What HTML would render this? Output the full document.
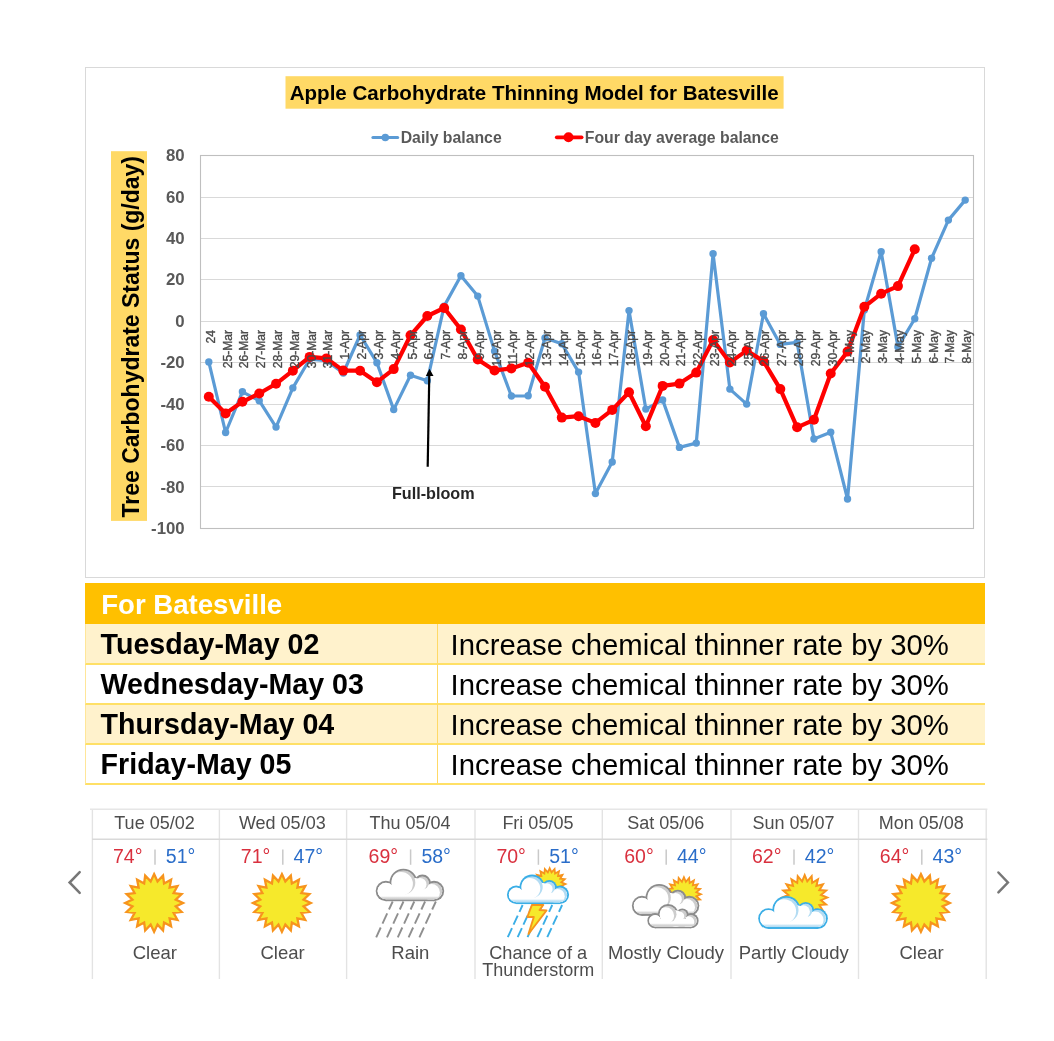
<!DOCTYPE html>
<html><head><meta charset="utf-8"><style>
html,body{margin:0;padding:0;background:#fff;}
body{width:1054px;height:1041px;position:relative;overflow:hidden;font-family:"Liberation Sans", sans-serif;}
#wrap{position:absolute;left:0;top:0;width:1054px;height:1041px;background:#fff;will-change:transform;}
#chart{position:absolute;left:0;top:0;}
#tbl{position:absolute;left:85px;top:583px;width:900px;}
.hdr{position:absolute;left:0;top:0;width:900px;height:40.7px;background:#ffc000;color:#fff;font-weight:bold;font-size:27.6px;line-height:44.5px;padding-left:16.2px;box-sizing:border-box;}
.row{position:absolute;left:0;width:900px;box-sizing:border-box;border-left:1px solid #ffe699;border-bottom:2px solid #ffe066;}
.r1{background:#fff2cc;}
.r2{background:#fff;}
.c1{position:absolute;left:14.6px;top:0.5px;line-height:40px;font-size:28.6px;font-weight:bold;color:#000;white-space:nowrap;}
.c2{position:absolute;left:351px;top:0;bottom:0;padding-left:12.6px;border-left:1.3px solid #ffd966;line-height:41px;font-size:29.3px;color:#000;white-space:nowrap;}
.wc{position:absolute;top:809px;width:127.8px;height:170px;box-sizing:border-box;border-left:1px solid #e0e0e0;}
#wtop{position:absolute;left:92px;top:808.5px;width:895px;height:0;border-top:1px solid #e0e0e0;}
#wmid{position:absolute;left:92px;top:838.5px;width:895px;height:0;border-top:1px solid #e0e0e0;}
#wright{position:absolute;left:986.5px;top:809px;width:0;height:170px;border-left:1px solid #e0e0e0;}
.wh{position:absolute;left:0;right:0;top:0;height:30px;line-height:38px;text-align:center;font-size:18px;color:#444;}
.wt{position:absolute;left:0;right:0;top:33px;text-align:center;font-size:18px;line-height:22px;}
.hi{color:#d9303e;} .lo{color:#2a6dc9;} .sep{color:#ccc;margin:0 9px;}
.wi{position:absolute;left:0;top:60px;}
.wd{position:absolute;left:0;right:0;top:129px;text-align:center;font-size:17.5px;line-height:18px;color:#444;}
.arr{position:absolute;}
</style></head><body><div id="wrap">
<svg id="chart" width="1054" height="600" viewBox="0 0 1054 600" font-family='"Liberation Sans", sans-serif'>
<rect x="85.5" y="67.5" width="899" height="510" fill="#fff" stroke="#d9d9d9" stroke-width="1"/>
<rect x="285.5" y="76.2" width="498.1" height="32.5" fill="#ffd966"/>
<text x="289.7" y="100.2" font-size="20.6" font-weight="bold" fill="#000" textLength="489" lengthAdjust="spacingAndGlyphs">Apple Carbohydrate Thinning Model for Batesville</text>
<line x1="372.9" y1="137.5" x2="397.7" y2="137.5" stroke="#5b9bd5" stroke-width="3" stroke-linecap="round"/>
<circle cx="385.3" cy="137.5" r="3.8" fill="#5b9bd5"/>
<text x="400.7" y="142.8" font-size="15.8" font-weight="bold" fill="#595959">Daily balance</text>
<line x1="556.8" y1="137.3" x2="581.6" y2="137.3" stroke="#ff0000" stroke-width="3.8" stroke-linecap="round"/>
<circle cx="568.5" cy="137.3" r="5" fill="#ff0000"/>
<text x="584.8" y="142.8" font-size="15.8" font-weight="bold" fill="#595959">Four day average balance</text>
<rect x="111" y="151.2" width="36" height="369.7" fill="#ffd966"/>
<text transform="translate(139.2,517.5) rotate(-90)" font-size="23" font-weight="bold" fill="#000" textLength="361.5" lengthAdjust="spacingAndGlyphs">Tree Carbohydrate Status (g/day)</text>
<text x="184.7" y="161.20" font-size="16.8" font-weight="bold" fill="#595959" text-anchor="end">80</text>
<line x1="200.4" y1="197.5" x2="973.6" y2="197.5" stroke="#d9d9d9" stroke-width="1.1"/>
<text x="184.7" y="202.62" font-size="16.8" font-weight="bold" fill="#595959" text-anchor="end">60</text>
<line x1="200.4" y1="238.5" x2="973.6" y2="238.5" stroke="#d9d9d9" stroke-width="1.1"/>
<text x="184.7" y="244.04" font-size="16.8" font-weight="bold" fill="#595959" text-anchor="end">40</text>
<line x1="200.4" y1="279.5" x2="973.6" y2="279.5" stroke="#d9d9d9" stroke-width="1.1"/>
<text x="184.7" y="285.47" font-size="16.8" font-weight="bold" fill="#595959" text-anchor="end">20</text>
<line x1="200.4" y1="321.5" x2="973.6" y2="321.5" stroke="#d9d9d9" stroke-width="1.1"/>
<text x="184.7" y="326.89" font-size="16.8" font-weight="bold" fill="#595959" text-anchor="end">0</text>
<line x1="200.4" y1="362.5" x2="973.6" y2="362.5" stroke="#d9d9d9" stroke-width="1.1"/>
<text x="184.7" y="368.31" font-size="16.8" font-weight="bold" fill="#595959" text-anchor="end">-20</text>
<line x1="200.4" y1="404.5" x2="973.6" y2="404.5" stroke="#d9d9d9" stroke-width="1.1"/>
<text x="184.7" y="409.73" font-size="16.8" font-weight="bold" fill="#595959" text-anchor="end">-40</text>
<line x1="200.4" y1="445.5" x2="973.6" y2="445.5" stroke="#d9d9d9" stroke-width="1.1"/>
<text x="184.7" y="451.16" font-size="16.8" font-weight="bold" fill="#595959" text-anchor="end">-60</text>
<line x1="200.4" y1="486.5" x2="973.6" y2="486.5" stroke="#d9d9d9" stroke-width="1.1"/>
<text x="184.7" y="492.58" font-size="16.8" font-weight="bold" fill="#595959" text-anchor="end">-80</text>
<text x="184.7" y="534.00" font-size="16.8" font-weight="bold" fill="#595959" text-anchor="end">-100</text>
<rect x="200.5" y="155.5" width="773" height="373" fill="none" stroke="#bfbfbf" stroke-width="1.1"/>
<polyline points="208.80,361.9 225.61,432.5 242.42,391.8 259.23,400.7 276.04,427.1 292.85,387.9 309.66,359.2 326.47,360.7 343.27,373.0 360.08,335.0 376.89,362.7 393.70,409.6 410.51,375.3 427.32,380.7 444.13,306.1 460.93,275.8 477.74,296.1 494.55,351.1 511.36,396.0 528.17,395.8 544.98,337.9 561.79,343.8 578.60,372.1 595.40,493.6 612.21,462.0 629.02,310.6 645.83,409.1 662.64,399.9 679.45,447.4 696.26,443.1 713.07,253.7 729.87,389.1 746.68,404.1 763.49,313.7 780.30,344.4 797.11,342.4 813.92,439.0 830.73,432.3 847.53,499.0 864.34,310.0 881.15,251.8 897.96,346.9 914.77,318.8 931.58,258.2 948.39,220.1 965.20,200.1" fill="none" stroke="#5b9bd5" stroke-width="3.2" stroke-linejoin="round"/>
<circle cx="208.80" cy="361.9" r="3.7" fill="#5b9bd5"/>
<circle cx="225.61" cy="432.5" r="3.7" fill="#5b9bd5"/>
<circle cx="242.42" cy="391.8" r="3.7" fill="#5b9bd5"/>
<circle cx="259.23" cy="400.7" r="3.7" fill="#5b9bd5"/>
<circle cx="276.04" cy="427.1" r="3.7" fill="#5b9bd5"/>
<circle cx="292.85" cy="387.9" r="3.7" fill="#5b9bd5"/>
<circle cx="309.66" cy="359.2" r="3.7" fill="#5b9bd5"/>
<circle cx="326.47" cy="360.7" r="3.7" fill="#5b9bd5"/>
<circle cx="343.27" cy="373.0" r="3.7" fill="#5b9bd5"/>
<circle cx="360.08" cy="335.0" r="3.7" fill="#5b9bd5"/>
<circle cx="376.89" cy="362.7" r="3.7" fill="#5b9bd5"/>
<circle cx="393.70" cy="409.6" r="3.7" fill="#5b9bd5"/>
<circle cx="410.51" cy="375.3" r="3.7" fill="#5b9bd5"/>
<circle cx="427.32" cy="380.7" r="3.7" fill="#5b9bd5"/>
<circle cx="444.13" cy="306.1" r="3.7" fill="#5b9bd5"/>
<circle cx="460.93" cy="275.8" r="3.7" fill="#5b9bd5"/>
<circle cx="477.74" cy="296.1" r="3.7" fill="#5b9bd5"/>
<circle cx="494.55" cy="351.1" r="3.7" fill="#5b9bd5"/>
<circle cx="511.36" cy="396.0" r="3.7" fill="#5b9bd5"/>
<circle cx="528.17" cy="395.8" r="3.7" fill="#5b9bd5"/>
<circle cx="544.98" cy="337.9" r="3.7" fill="#5b9bd5"/>
<circle cx="561.79" cy="343.8" r="3.7" fill="#5b9bd5"/>
<circle cx="578.60" cy="372.1" r="3.7" fill="#5b9bd5"/>
<circle cx="595.40" cy="493.6" r="3.7" fill="#5b9bd5"/>
<circle cx="612.21" cy="462.0" r="3.7" fill="#5b9bd5"/>
<circle cx="629.02" cy="310.6" r="3.7" fill="#5b9bd5"/>
<circle cx="645.83" cy="409.1" r="3.7" fill="#5b9bd5"/>
<circle cx="662.64" cy="399.9" r="3.7" fill="#5b9bd5"/>
<circle cx="679.45" cy="447.4" r="3.7" fill="#5b9bd5"/>
<circle cx="696.26" cy="443.1" r="3.7" fill="#5b9bd5"/>
<circle cx="713.07" cy="253.7" r="3.7" fill="#5b9bd5"/>
<circle cx="729.87" cy="389.1" r="3.7" fill="#5b9bd5"/>
<circle cx="746.68" cy="404.1" r="3.7" fill="#5b9bd5"/>
<circle cx="763.49" cy="313.7" r="3.7" fill="#5b9bd5"/>
<circle cx="780.30" cy="344.4" r="3.7" fill="#5b9bd5"/>
<circle cx="797.11" cy="342.4" r="3.7" fill="#5b9bd5"/>
<circle cx="813.92" cy="439.0" r="3.7" fill="#5b9bd5"/>
<circle cx="830.73" cy="432.3" r="3.7" fill="#5b9bd5"/>
<circle cx="847.53" cy="499.0" r="3.7" fill="#5b9bd5"/>
<circle cx="864.34" cy="310.0" r="3.7" fill="#5b9bd5"/>
<circle cx="881.15" cy="251.8" r="3.7" fill="#5b9bd5"/>
<circle cx="897.96" cy="346.9" r="3.7" fill="#5b9bd5"/>
<circle cx="914.77" cy="318.8" r="3.7" fill="#5b9bd5"/>
<circle cx="931.58" cy="258.2" r="3.7" fill="#5b9bd5"/>
<circle cx="948.39" cy="220.1" r="3.7" fill="#5b9bd5"/>
<circle cx="965.20" cy="200.1" r="3.7" fill="#5b9bd5"/>
<polyline points="208.80,396.8 225.61,413.4 242.42,401.8 259.23,393.5 276.04,383.8 292.85,370.7 309.66,356.9 326.47,358.4 343.27,370.6 360.08,370.7 376.89,382.2 393.70,369.1 410.51,335.3 427.32,316.0 444.13,308.0 460.93,329.5 477.74,359.5 494.55,370.4 511.36,368.4 528.17,362.8 544.98,386.8 561.79,417.6 578.60,416.2 595.40,422.9 612.21,409.9 629.02,392.2 645.83,426.2 662.64,385.9 679.45,383.6 696.26,372.6 713.07,340.0 729.87,362.4 746.68,350.6 763.49,361.1 780.30,389.1 797.11,427.3 813.92,419.8 830.73,373.5 847.53,351.6 864.34,306.8 881.15,293.7 897.96,286.1 914.77,249.3" fill="none" stroke="#ff0000" stroke-width="4.2" stroke-linejoin="round"/>
<circle cx="208.80" cy="396.8" r="5" fill="#ff0000"/>
<circle cx="225.61" cy="413.4" r="5" fill="#ff0000"/>
<circle cx="242.42" cy="401.8" r="5" fill="#ff0000"/>
<circle cx="259.23" cy="393.5" r="5" fill="#ff0000"/>
<circle cx="276.04" cy="383.8" r="5" fill="#ff0000"/>
<circle cx="292.85" cy="370.7" r="5" fill="#ff0000"/>
<circle cx="309.66" cy="356.9" r="5" fill="#ff0000"/>
<circle cx="326.47" cy="358.4" r="5" fill="#ff0000"/>
<circle cx="343.27" cy="370.6" r="5" fill="#ff0000"/>
<circle cx="360.08" cy="370.7" r="5" fill="#ff0000"/>
<circle cx="376.89" cy="382.2" r="5" fill="#ff0000"/>
<circle cx="393.70" cy="369.1" r="5" fill="#ff0000"/>
<circle cx="410.51" cy="335.3" r="5" fill="#ff0000"/>
<circle cx="427.32" cy="316.0" r="5" fill="#ff0000"/>
<circle cx="444.13" cy="308.0" r="5" fill="#ff0000"/>
<circle cx="460.93" cy="329.5" r="5" fill="#ff0000"/>
<circle cx="477.74" cy="359.5" r="5" fill="#ff0000"/>
<circle cx="494.55" cy="370.4" r="5" fill="#ff0000"/>
<circle cx="511.36" cy="368.4" r="5" fill="#ff0000"/>
<circle cx="528.17" cy="362.8" r="5" fill="#ff0000"/>
<circle cx="544.98" cy="386.8" r="5" fill="#ff0000"/>
<circle cx="561.79" cy="417.6" r="5" fill="#ff0000"/>
<circle cx="578.60" cy="416.2" r="5" fill="#ff0000"/>
<circle cx="595.40" cy="422.9" r="5" fill="#ff0000"/>
<circle cx="612.21" cy="409.9" r="5" fill="#ff0000"/>
<circle cx="629.02" cy="392.2" r="5" fill="#ff0000"/>
<circle cx="645.83" cy="426.2" r="5" fill="#ff0000"/>
<circle cx="662.64" cy="385.9" r="5" fill="#ff0000"/>
<circle cx="679.45" cy="383.6" r="5" fill="#ff0000"/>
<circle cx="696.26" cy="372.6" r="5" fill="#ff0000"/>
<circle cx="713.07" cy="340.0" r="5" fill="#ff0000"/>
<circle cx="729.87" cy="362.4" r="5" fill="#ff0000"/>
<circle cx="746.68" cy="350.6" r="5" fill="#ff0000"/>
<circle cx="763.49" cy="361.1" r="5" fill="#ff0000"/>
<circle cx="780.30" cy="389.1" r="5" fill="#ff0000"/>
<circle cx="797.11" cy="427.3" r="5" fill="#ff0000"/>
<circle cx="813.92" cy="419.8" r="5" fill="#ff0000"/>
<circle cx="830.73" cy="373.5" r="5" fill="#ff0000"/>
<circle cx="847.53" cy="351.6" r="5" fill="#ff0000"/>
<circle cx="864.34" cy="306.8" r="5" fill="#ff0000"/>
<circle cx="881.15" cy="293.7" r="5" fill="#ff0000"/>
<circle cx="897.96" cy="286.1" r="5" fill="#ff0000"/>
<circle cx="914.77" cy="249.3" r="5" fill="#ff0000"/>
<text transform="translate(214.80,330) rotate(-90)" font-size="12.1" font-weight="normal" fill="#4a4a4a" stroke="#4a4a4a" stroke-width="0.35" text-anchor="end">24</text>
<text transform="translate(231.61,330) rotate(-90)" font-size="12.1" font-weight="normal" fill="#4a4a4a" stroke="#4a4a4a" stroke-width="0.35" text-anchor="end">25-Mar</text>
<text transform="translate(248.42,330) rotate(-90)" font-size="12.1" font-weight="normal" fill="#4a4a4a" stroke="#4a4a4a" stroke-width="0.35" text-anchor="end">26-Mar</text>
<text transform="translate(265.23,330) rotate(-90)" font-size="12.1" font-weight="normal" fill="#4a4a4a" stroke="#4a4a4a" stroke-width="0.35" text-anchor="end">27-Mar</text>
<text transform="translate(282.04,330) rotate(-90)" font-size="12.1" font-weight="normal" fill="#4a4a4a" stroke="#4a4a4a" stroke-width="0.35" text-anchor="end">28-Mar</text>
<text transform="translate(298.85,330) rotate(-90)" font-size="12.1" font-weight="normal" fill="#4a4a4a" stroke="#4a4a4a" stroke-width="0.35" text-anchor="end">29-Mar</text>
<text transform="translate(315.66,330) rotate(-90)" font-size="12.1" font-weight="normal" fill="#4a4a4a" stroke="#4a4a4a" stroke-width="0.35" text-anchor="end">30-Mar</text>
<text transform="translate(332.47,330) rotate(-90)" font-size="12.1" font-weight="normal" fill="#4a4a4a" stroke="#4a4a4a" stroke-width="0.35" text-anchor="end">31-Mar</text>
<text transform="translate(349.27,330) rotate(-90)" font-size="12.1" font-weight="normal" fill="#4a4a4a" stroke="#4a4a4a" stroke-width="0.35" text-anchor="end">1-Apr</text>
<text transform="translate(366.08,330) rotate(-90)" font-size="12.1" font-weight="normal" fill="#4a4a4a" stroke="#4a4a4a" stroke-width="0.35" text-anchor="end">2-Apr</text>
<text transform="translate(382.89,330) rotate(-90)" font-size="12.1" font-weight="normal" fill="#4a4a4a" stroke="#4a4a4a" stroke-width="0.35" text-anchor="end">3-Apr</text>
<text transform="translate(399.70,330) rotate(-90)" font-size="12.1" font-weight="normal" fill="#4a4a4a" stroke="#4a4a4a" stroke-width="0.35" text-anchor="end">4-Apr</text>
<text transform="translate(416.51,330) rotate(-90)" font-size="12.1" font-weight="normal" fill="#4a4a4a" stroke="#4a4a4a" stroke-width="0.35" text-anchor="end">5-Apr</text>
<text transform="translate(433.32,330) rotate(-90)" font-size="12.1" font-weight="normal" fill="#4a4a4a" stroke="#4a4a4a" stroke-width="0.35" text-anchor="end">6-Apr</text>
<text transform="translate(450.13,330) rotate(-90)" font-size="12.1" font-weight="normal" fill="#4a4a4a" stroke="#4a4a4a" stroke-width="0.35" text-anchor="end">7-Apr</text>
<text transform="translate(466.93,330) rotate(-90)" font-size="12.1" font-weight="normal" fill="#4a4a4a" stroke="#4a4a4a" stroke-width="0.35" text-anchor="end">8-Apr</text>
<text transform="translate(483.74,330) rotate(-90)" font-size="12.1" font-weight="normal" fill="#4a4a4a" stroke="#4a4a4a" stroke-width="0.35" text-anchor="end">9-Apr</text>
<text transform="translate(500.55,330) rotate(-90)" font-size="12.1" font-weight="normal" fill="#4a4a4a" stroke="#4a4a4a" stroke-width="0.35" text-anchor="end">10-Apr</text>
<text transform="translate(517.36,330) rotate(-90)" font-size="12.1" font-weight="normal" fill="#4a4a4a" stroke="#4a4a4a" stroke-width="0.35" text-anchor="end">11-Apr</text>
<text transform="translate(534.17,330) rotate(-90)" font-size="12.1" font-weight="normal" fill="#4a4a4a" stroke="#4a4a4a" stroke-width="0.35" text-anchor="end">12-Apr</text>
<text transform="translate(550.98,330) rotate(-90)" font-size="12.1" font-weight="normal" fill="#4a4a4a" stroke="#4a4a4a" stroke-width="0.35" text-anchor="end">13-Apr</text>
<text transform="translate(567.79,330) rotate(-90)" font-size="12.1" font-weight="normal" fill="#4a4a4a" stroke="#4a4a4a" stroke-width="0.35" text-anchor="end">14-Apr</text>
<text transform="translate(584.60,330) rotate(-90)" font-size="12.1" font-weight="normal" fill="#4a4a4a" stroke="#4a4a4a" stroke-width="0.35" text-anchor="end">15-Apr</text>
<text transform="translate(601.40,330) rotate(-90)" font-size="12.1" font-weight="normal" fill="#4a4a4a" stroke="#4a4a4a" stroke-width="0.35" text-anchor="end">16-Apr</text>
<text transform="translate(618.21,330) rotate(-90)" font-size="12.1" font-weight="normal" fill="#4a4a4a" stroke="#4a4a4a" stroke-width="0.35" text-anchor="end">17-Apr</text>
<text transform="translate(635.02,330) rotate(-90)" font-size="12.1" font-weight="normal" fill="#4a4a4a" stroke="#4a4a4a" stroke-width="0.35" text-anchor="end">18-Apr</text>
<text transform="translate(651.83,330) rotate(-90)" font-size="12.1" font-weight="normal" fill="#4a4a4a" stroke="#4a4a4a" stroke-width="0.35" text-anchor="end">19-Apr</text>
<text transform="translate(668.64,330) rotate(-90)" font-size="12.1" font-weight="normal" fill="#4a4a4a" stroke="#4a4a4a" stroke-width="0.35" text-anchor="end">20-Apr</text>
<text transform="translate(685.45,330) rotate(-90)" font-size="12.1" font-weight="normal" fill="#4a4a4a" stroke="#4a4a4a" stroke-width="0.35" text-anchor="end">21-Apr</text>
<text transform="translate(702.26,330) rotate(-90)" font-size="12.1" font-weight="normal" fill="#4a4a4a" stroke="#4a4a4a" stroke-width="0.35" text-anchor="end">22-Apr</text>
<text transform="translate(719.07,330) rotate(-90)" font-size="12.1" font-weight="normal" fill="#4a4a4a" stroke="#4a4a4a" stroke-width="0.35" text-anchor="end">23-Apr</text>
<text transform="translate(735.87,330) rotate(-90)" font-size="12.1" font-weight="normal" fill="#4a4a4a" stroke="#4a4a4a" stroke-width="0.35" text-anchor="end">24-Apr</text>
<text transform="translate(752.68,330) rotate(-90)" font-size="12.1" font-weight="normal" fill="#4a4a4a" stroke="#4a4a4a" stroke-width="0.35" text-anchor="end">25-Apr</text>
<text transform="translate(769.49,330) rotate(-90)" font-size="12.1" font-weight="normal" fill="#4a4a4a" stroke="#4a4a4a" stroke-width="0.35" text-anchor="end">26-Apr</text>
<text transform="translate(786.30,330) rotate(-90)" font-size="12.1" font-weight="normal" fill="#4a4a4a" stroke="#4a4a4a" stroke-width="0.35" text-anchor="end">27-Apr</text>
<text transform="translate(803.11,330) rotate(-90)" font-size="12.1" font-weight="normal" fill="#4a4a4a" stroke="#4a4a4a" stroke-width="0.35" text-anchor="end">28-Apr</text>
<text transform="translate(819.92,330) rotate(-90)" font-size="12.1" font-weight="normal" fill="#4a4a4a" stroke="#4a4a4a" stroke-width="0.35" text-anchor="end">29-Apr</text>
<text transform="translate(836.73,330) rotate(-90)" font-size="12.1" font-weight="normal" fill="#4a4a4a" stroke="#4a4a4a" stroke-width="0.35" text-anchor="end">30-Apr</text>
<text transform="translate(853.53,330) rotate(-90)" font-size="12.1" font-weight="normal" fill="#4a4a4a" stroke="#4a4a4a" stroke-width="0.35" text-anchor="end">1-May</text>
<text transform="translate(870.34,330) rotate(-90)" font-size="12.1" font-weight="normal" fill="#4a4a4a" stroke="#4a4a4a" stroke-width="0.35" text-anchor="end">2-May</text>
<text transform="translate(887.15,330) rotate(-90)" font-size="12.1" font-weight="normal" fill="#4a4a4a" stroke="#4a4a4a" stroke-width="0.35" text-anchor="end">3-May</text>
<text transform="translate(903.96,330) rotate(-90)" font-size="12.1" font-weight="normal" fill="#4a4a4a" stroke="#4a4a4a" stroke-width="0.35" text-anchor="end">4-May</text>
<text transform="translate(920.77,330) rotate(-90)" font-size="12.1" font-weight="normal" fill="#4a4a4a" stroke="#4a4a4a" stroke-width="0.35" text-anchor="end">5-May</text>
<text transform="translate(937.58,330) rotate(-90)" font-size="12.1" font-weight="normal" fill="#4a4a4a" stroke="#4a4a4a" stroke-width="0.35" text-anchor="end">6-May</text>
<text transform="translate(954.39,330) rotate(-90)" font-size="12.1" font-weight="normal" fill="#4a4a4a" stroke="#4a4a4a" stroke-width="0.35" text-anchor="end">7-May</text>
<text transform="translate(971.20,330) rotate(-90)" font-size="12.1" font-weight="normal" fill="#4a4a4a" stroke="#4a4a4a" stroke-width="0.35" text-anchor="end">8-May</text>
<line x1="427.7" y1="466.7" x2="429.3" y2="374" stroke="#000" stroke-width="2.2"/>
<path d="M429.5,368.7 L433.5,376 L425.8,376 Z" fill="#000"/>
<text x="391.9" y="499" font-size="16.2" font-weight="bold" fill="#262626">Full-bloom</text>
</svg>
<div id="tbl">
<div class="hdr">For Batesville</div>
<div class="row r1" style="top:40.7px;height:41px"><div class="c1" style="margin-top:0px">Tuesday-May 02</div><div class="c2" style="margin-top:0px">Increase chemical thinner rate by 30%</div></div>
<div class="row r2" style="top:81.7px;height:40px"><div class="c1" style="margin-top:-1.0px">Wednesday-May 03</div><div class="c2" style="margin-top:-1.0px">Increase chemical thinner rate by 30%</div></div>
<div class="row r1" style="top:121.7px;height:40px"><div class="c1" style="margin-top:-1.0px">Thursday-May 04</div><div class="c2" style="margin-top:-1.0px">Increase chemical thinner rate by 30%</div></div>
<div class="row r2" style="top:161.7px;height:40px"><div class="c1" style="margin-top:-1.0px">Friday-May 05</div><div class="c2" style="margin-top:-1.0px">Increase chemical thinner rate by 30%</div></div>
</div>

<svg style="position:absolute;left:0;top:0" width="1054" height="1041" viewBox="0 0 1054 1041" font-family='"Liberation Sans", sans-serif'><path d="M154.10,874.10 L157.53,881.37 L163.03,875.51 L164.04,883.49 L171.09,879.62 L169.59,887.51 L177.48,886.01 L173.61,893.06 L181.59,894.07 L175.73,899.57 L183.00,903.00 L175.73,906.43 L181.59,911.93 L173.61,912.94 L177.48,919.99 L169.59,918.49 L171.09,926.38 L164.04,922.51 L163.03,930.49 L157.53,924.63 L154.10,931.90 L150.67,924.63 L145.17,930.49 L144.16,922.51 L137.11,926.38 L138.61,918.49 L130.72,919.99 L134.59,912.94 L126.61,911.93 L132.47,906.43 L125.20,903.00 L132.47,899.57 L126.61,894.07 L134.59,893.06 L130.72,886.01 L138.61,887.51 L137.11,879.62 L144.16,883.49 L145.17,875.51 L150.67,881.37Z" fill="#f6e92b" stroke="#f7941d" stroke-width="2.3" stroke-linejoin="miter" stroke-miterlimit="10"/><path d="M281.90,874.10 L285.33,881.37 L290.83,875.51 L291.84,883.49 L298.89,879.62 L297.39,887.51 L305.28,886.01 L301.41,893.06 L309.39,894.07 L303.53,899.57 L310.80,903.00 L303.53,906.43 L309.39,911.93 L301.41,912.94 L305.28,919.99 L297.39,918.49 L298.89,926.38 L291.84,922.51 L290.83,930.49 L285.33,924.63 L281.90,931.90 L278.47,924.63 L272.97,930.49 L271.96,922.51 L264.91,926.38 L266.41,918.49 L258.52,919.99 L262.39,912.94 L254.41,911.93 L260.27,906.43 L253.00,903.00 L260.27,899.57 L254.41,894.07 L262.39,893.06 L258.52,886.01 L266.41,887.51 L264.91,879.62 L271.96,883.49 L272.97,875.51 L278.47,881.37Z" fill="#f6e92b" stroke="#f7941d" stroke-width="2.3" stroke-linejoin="miter" stroke-miterlimit="10"/><g stroke="#8f8f8f" stroke-width="1.9" stroke-linecap="butt"><line x1="392.67" y1="901.50" x2="388.99" y2="909.50"/><line x1="387.20" y1="913.40" x2="382.50" y2="923.60"/><line x1="380.71" y1="927.50" x2="376.20" y2="937.30"/><line x1="403.47" y1="901.50" x2="399.79" y2="909.50"/><line x1="398.00" y1="913.40" x2="393.30" y2="923.60"/><line x1="391.51" y1="927.50" x2="387.00" y2="937.30"/><line x1="414.27" y1="901.50" x2="410.59" y2="909.50"/><line x1="408.80" y1="913.40" x2="404.10" y2="923.60"/><line x1="402.31" y1="927.50" x2="397.80" y2="937.30"/><line x1="425.07" y1="901.50" x2="421.39" y2="909.50"/><line x1="419.60" y1="913.40" x2="414.90" y2="923.60"/><line x1="413.11" y1="927.50" x2="408.60" y2="937.30"/><line x1="435.87" y1="901.50" x2="432.19" y2="909.50"/><line x1="430.40" y1="913.40" x2="425.70" y2="923.60"/><line x1="423.91" y1="927.50" x2="419.40" y2="937.30"/></g><defs><clipPath id="cl1"><circle cx="385.90" cy="891.00" r="8.30" /><circle cx="434.00" cy="891.00" r="8.30" /><circle cx="422.40" cy="883.00" r="6.50" /><circle cx="403.40" cy="882.50" r="11.90" /><rect x="385.90" y="888.70" width="48.10" height="10.60" /><circle cx="413.70" cy="888.20" r="10.40" /></clipPath><linearGradient id="cl1g" x1="0" y1="0" x2="0" y2="1"><stop offset="0" stop-color="#cdcdcd" stop-opacity="0"/><stop offset="0.55" stop-color="#cdcdcd" stop-opacity="0.8"/><stop offset="1" stop-color="#cdcdcd"/></linearGradient></defs><g fill="#8c8c8c"><circle cx="385.90" cy="891.00" r="10.20" /><circle cx="434.00" cy="891.00" r="10.20" /><circle cx="422.40" cy="883.00" r="8.40" /><circle cx="403.40" cy="882.50" r="13.80" /><rect x="385.90" y="888.70" width="48.10" height="12.50" /></g><g fill="#cdcdcd"><circle cx="385.90" cy="891.00" r="8.30" /><circle cx="434.00" cy="891.00" r="8.30" /><circle cx="422.40" cy="883.00" r="6.50" /><circle cx="403.40" cy="882.50" r="11.90" /><rect x="385.90" y="888.70" width="48.10" height="10.60" /><circle cx="413.70" cy="888.20" r="10.40" /></g><g clip-path="url(#cl1)"><rect x="375.20" y="886.70" width="70.00" height="14.50" fill="#fff"/><circle cx="413.70" cy="888.20" r="10.40" fill="#fff"/><circle cx="384.70" cy="889.80" r="8.30" fill="#fff"/><circle cx="434.00" cy="891.00" r="8.30" fill="#cdcdcd"/><circle cx="431.60" cy="892.40" r="8.30" fill="#fff"/><circle cx="422.40" cy="883.00" r="6.50" fill="#cdcdcd"/><circle cx="420.00" cy="884.40" r="6.50" fill="#fff"/><circle cx="403.40" cy="882.50" r="11.90" fill="#cdcdcd"/><circle cx="401.00" cy="883.90" r="11.90" fill="#fff"/><rect x="375.20" y="896.10" width="70.00" height="3.20" fill="url(#cl1g)"/></g><path d="M549.70,868.30 L551.55,872.45 L554.58,869.07 L555.06,873.59 L558.99,871.32 L558.04,875.76 L562.48,874.81 L560.21,878.74 L564.73,879.22 L561.35,882.25 L565.50,884.10 L561.35,885.95 L564.73,888.98 L560.21,889.46 L562.48,893.39 L558.04,892.44 L558.99,896.88 L555.06,894.61 L554.58,899.13 L551.55,895.75 L549.70,899.90 L547.85,895.75 L544.82,899.13 L544.34,894.61 L540.41,896.88 L541.36,892.44 L536.92,893.39 L539.19,889.46 L534.67,888.98 L538.05,885.95 L533.90,884.10 L538.05,882.25 L534.67,879.22 L539.19,878.74 L536.92,874.81 L541.36,875.76 L540.41,871.32 L544.34,873.59 L544.82,869.07 L547.85,872.45Z" fill="#f6e92b" stroke="#f7941d" stroke-width="1.8" stroke-linejoin="miter" stroke-miterlimit="10"/><g stroke="#3aaee6" stroke-width="1.9" stroke-linecap="butt"><line x1="522.62" y1="905.00" x2="519.49" y2="911.80"/><line x1="517.74" y1="915.60" x2="513.55" y2="924.70"/><line x1="511.99" y1="928.10" x2="507.80" y2="937.20"/><line x1="532.49" y1="905.00" x2="529.36" y2="911.80"/><line x1="527.61" y1="915.60" x2="523.42" y2="924.70"/><line x1="521.86" y1="928.10" x2="517.67" y2="937.20"/><line x1="542.36" y1="905.00" x2="539.23" y2="911.80"/><line x1="537.48" y1="915.60" x2="533.29" y2="924.70"/><line x1="531.73" y1="928.10" x2="527.54" y2="937.20"/><line x1="552.23" y1="905.00" x2="549.10" y2="911.80"/><line x1="547.35" y1="915.60" x2="543.16" y2="924.70"/><line x1="541.60" y1="928.10" x2="537.41" y2="937.20"/><line x1="562.10" y1="905.00" x2="558.97" y2="911.80"/><line x1="557.22" y1="915.60" x2="553.03" y2="924.70"/><line x1="551.47" y1="928.10" x2="547.28" y2="937.20"/></g><defs><clipPath id="cl2"><circle cx="516.20" cy="894.83" r="7.35" /><circle cx="559.83" cy="894.83" r="7.35" /><circle cx="549.31" cy="887.57" r="5.72" /><circle cx="532.08" cy="887.12" r="10.62" /><rect x="516.20" y="892.74" width="43.63" height="9.44" /><circle cx="541.42" cy="892.29" r="9.61" /></clipPath><linearGradient id="cl2g" x1="0" y1="0" x2="0" y2="1"><stop offset="0" stop-color="#b3dcf3" stop-opacity="0"/><stop offset="0.55" stop-color="#b3dcf3" stop-opacity="0.8"/><stop offset="1" stop-color="#b3dcf3"/></linearGradient></defs><g fill="#3aaee6"><circle cx="516.20" cy="894.83" r="9.25" /><circle cx="559.83" cy="894.83" r="9.25" /><circle cx="549.31" cy="887.57" r="7.62" /><circle cx="532.08" cy="887.12" r="12.52" /><rect x="516.20" y="892.74" width="43.63" height="11.34" /></g><g fill="#b3dcf3"><circle cx="516.20" cy="894.83" r="7.35" /><circle cx="559.83" cy="894.83" r="7.35" /><circle cx="549.31" cy="887.57" r="5.72" /><circle cx="532.08" cy="887.12" r="10.62" /><rect x="516.20" y="892.74" width="43.63" height="9.44" /><circle cx="541.42" cy="892.29" r="9.61" /></g><g clip-path="url(#cl2)"><rect x="506.50" y="890.74" width="63.49" height="13.34" fill="#fff"/><circle cx="541.42" cy="892.29" r="9.61" fill="#fff"/><circle cx="515.00" cy="893.63" r="7.35" fill="#fff"/><circle cx="559.83" cy="894.83" r="7.35" fill="#b3dcf3"/><circle cx="557.43" cy="896.23" r="7.35" fill="#fff"/><circle cx="549.31" cy="887.57" r="5.72" fill="#b3dcf3"/><circle cx="546.91" cy="888.97" r="5.72" fill="#fff"/><circle cx="532.08" cy="887.12" r="10.62" fill="#b3dcf3"/><circle cx="529.68" cy="888.52" r="10.62" fill="#fff"/><rect x="506.50" y="898.98" width="63.49" height="3.20" fill="url(#cl2g)"/></g><path d="M531.9,905 L543.3,905 L539.5,910 L546.5,910.5 L528.5,934 L533.8,917 L527.3,917 Z" fill="#f6e92b" stroke="#f7941d" stroke-width="1.9" stroke-linejoin="round"/><path d="M683.90,877.20 L685.87,881.76 L689.15,878.03 L689.62,882.97 L693.89,880.45 L692.81,885.29 L697.65,884.21 L695.13,888.48 L700.07,888.95 L696.34,892.23 L700.90,894.20 L696.34,896.17 L700.07,899.45 L695.13,899.92 L697.65,904.19 L692.81,903.11 L693.89,907.95 L689.62,905.43 L689.15,910.37 L685.87,906.64 L683.90,911.20 L681.93,906.64 L678.65,910.37 L678.18,905.43 L673.91,907.95 L674.99,903.11 L670.15,904.19 L672.67,899.92 L667.73,899.45 L671.46,896.17 L666.90,894.20 L671.46,892.23 L667.73,888.95 L672.67,888.48 L670.15,884.21 L674.99,885.29 L673.91,880.45 L678.18,882.97 L678.65,878.03 L681.93,881.76Z" fill="#f6e92b" stroke="#f7941d" stroke-width="1.8" stroke-linejoin="miter" stroke-miterlimit="10"/><defs><clipPath id="cl3"><circle cx="641.93" cy="905.84" r="8.14" /><circle cx="689.26" cy="905.84" r="8.14" /><circle cx="677.84" cy="897.97" r="6.37" /><circle cx="659.15" cy="897.48" r="11.68" /><rect x="641.93" y="903.58" width="47.33" height="10.40" /><circle cx="669.28" cy="903.09" r="10.26" /></clipPath><linearGradient id="cl3g" x1="0" y1="0" x2="0" y2="1"><stop offset="0" stop-color="#cdcdcd" stop-opacity="0"/><stop offset="0.55" stop-color="#cdcdcd" stop-opacity="0.8"/><stop offset="1" stop-color="#cdcdcd"/></linearGradient></defs><g fill="#8c8c8c"><circle cx="641.93" cy="905.84" r="10.04" /><circle cx="689.26" cy="905.84" r="10.04" /><circle cx="677.84" cy="897.97" r="8.27" /><circle cx="659.15" cy="897.48" r="13.58" /><rect x="641.93" y="903.58" width="47.33" height="12.30" /></g><g fill="#cdcdcd"><circle cx="641.93" cy="905.84" r="8.14" /><circle cx="689.26" cy="905.84" r="8.14" /><circle cx="677.84" cy="897.97" r="6.37" /><circle cx="659.15" cy="897.48" r="11.68" /><rect x="641.93" y="903.58" width="47.33" height="10.40" /><circle cx="669.28" cy="903.09" r="10.26" /></g><g clip-path="url(#cl3)"><rect x="631.40" y="901.58" width="68.88" height="14.30" fill="#fff"/><circle cx="669.28" cy="903.09" r="10.26" fill="#fff"/><circle cx="640.73" cy="904.64" r="8.14" fill="#fff"/><circle cx="689.26" cy="905.84" r="8.14" fill="#cdcdcd"/><circle cx="686.86" cy="907.24" r="8.14" fill="#fff"/><circle cx="677.84" cy="897.97" r="6.37" fill="#cdcdcd"/><circle cx="675.44" cy="899.37" r="6.37" fill="#fff"/><circle cx="659.15" cy="897.48" r="11.68" fill="#cdcdcd"/><circle cx="656.75" cy="898.88" r="11.68" fill="#fff"/><rect x="631.40" y="910.78" width="68.88" height="3.20" fill="url(#cl3g)"/></g><defs><clipPath id="cl4"><circle cx="655.00" cy="920.68" r="5.73" /><circle cx="690.98" cy="920.68" r="5.73" /><circle cx="682.31" cy="914.70" r="4.38" /><circle cx="668.09" cy="914.32" r="8.42" /><rect x="655.00" y="918.96" width="35.98" height="7.45" /><circle cx="675.80" cy="918.59" r="8.26" /></clipPath><linearGradient id="cl4g" x1="0" y1="0" x2="0" y2="1"><stop offset="0" stop-color="#cdcdcd" stop-opacity="0"/><stop offset="0.55" stop-color="#cdcdcd" stop-opacity="0.8"/><stop offset="1" stop-color="#cdcdcd"/></linearGradient></defs><g fill="#8c8c8c"><circle cx="655.00" cy="920.68" r="7.63" /><circle cx="690.98" cy="920.68" r="7.63" /><circle cx="682.31" cy="914.70" r="6.28" /><circle cx="668.09" cy="914.32" r="10.32" /><rect x="655.00" y="918.96" width="35.98" height="9.35" /></g><g fill="#cdcdcd"><circle cx="655.00" cy="920.68" r="5.73" /><circle cx="690.98" cy="920.68" r="5.73" /><circle cx="682.31" cy="914.70" r="4.38" /><circle cx="668.09" cy="914.32" r="8.42" /><rect x="655.00" y="918.96" width="35.98" height="7.45" /><circle cx="675.80" cy="918.59" r="8.26" /></g><g clip-path="url(#cl4)"><rect x="647.00" y="916.96" width="52.36" height="11.35" fill="#fff"/><circle cx="675.80" cy="918.59" r="8.26" fill="#fff"/><circle cx="653.80" cy="919.48" r="5.73" fill="#fff"/><circle cx="690.98" cy="920.68" r="5.73" fill="#cdcdcd"/><circle cx="688.58" cy="922.08" r="5.73" fill="#fff"/><circle cx="682.31" cy="914.70" r="4.38" fill="#cdcdcd"/><circle cx="679.91" cy="916.10" r="4.38" fill="#fff"/><circle cx="668.09" cy="914.32" r="8.42" fill="#cdcdcd"/><circle cx="665.69" cy="915.72" r="8.42" fill="#fff"/><rect x="647.00" y="923.21" width="52.36" height="3.20" fill="url(#cl4g)"/></g><path d="M804.70,875.10 L807.28,881.30 L811.65,876.20 L812.19,882.90 L817.93,879.40 L816.37,885.93 L822.90,884.37 L819.40,890.11 L826.10,890.65 L821.00,895.02 L827.20,897.60 L821.00,900.18 L826.10,904.55 L819.40,905.09 L822.90,910.83 L816.37,909.27 L817.93,915.80 L812.19,912.30 L811.65,919.00 L807.28,913.90 L804.70,920.10 L802.12,913.90 L797.75,919.00 L797.21,912.30 L791.47,915.80 L793.03,909.27 L786.50,910.83 L790.00,905.09 L783.30,904.55 L788.40,900.18 L782.20,897.60 L788.40,895.02 L783.30,890.65 L790.00,890.11 L786.50,884.37 L793.03,885.93 L791.47,879.40 L797.21,882.90 L797.75,876.20 L802.12,881.30Z" fill="#f6e92b" stroke="#f7941d" stroke-width="2.0" stroke-linejoin="miter" stroke-miterlimit="10"/><defs><clipPath id="cl5"><circle cx="768.58" cy="918.58" r="8.47" /><circle cx="817.50" cy="918.58" r="8.47" /><circle cx="805.70" cy="910.44" r="6.64" /><circle cx="786.38" cy="909.93" r="12.13" /><rect x="768.58" y="916.24" width="48.92" height="10.81" /><circle cx="796.85" cy="915.73" r="10.54" /></clipPath><linearGradient id="cl5g" x1="0" y1="0" x2="0" y2="1"><stop offset="0" stop-color="#b3dcf3" stop-opacity="0"/><stop offset="0.55" stop-color="#b3dcf3" stop-opacity="0.8"/><stop offset="1" stop-color="#b3dcf3"/></linearGradient></defs><g fill="#3aaee6"><circle cx="768.58" cy="918.58" r="10.37" /><circle cx="817.50" cy="918.58" r="10.37" /><circle cx="805.70" cy="910.44" r="8.54" /><circle cx="786.38" cy="909.93" r="14.03" /><rect x="768.58" y="916.24" width="48.92" height="12.71" /></g><g fill="#b3dcf3"><circle cx="768.58" cy="918.58" r="8.47" /><circle cx="817.50" cy="918.58" r="8.47" /><circle cx="805.70" cy="910.44" r="6.64" /><circle cx="786.38" cy="909.93" r="12.13" /><rect x="768.58" y="916.24" width="48.92" height="10.81" /><circle cx="796.85" cy="915.73" r="10.54" /></g><g clip-path="url(#cl5)"><rect x="757.70" y="914.24" width="71.19" height="14.71" fill="#fff"/><circle cx="796.85" cy="915.73" r="10.54" fill="#fff"/><circle cx="767.38" cy="917.38" r="8.47" fill="#fff"/><circle cx="817.50" cy="918.58" r="8.47" fill="#b3dcf3"/><circle cx="815.10" cy="919.98" r="8.47" fill="#fff"/><circle cx="805.70" cy="910.44" r="6.64" fill="#b3dcf3"/><circle cx="803.30" cy="911.84" r="6.64" fill="#fff"/><circle cx="786.38" cy="909.93" r="12.13" fill="#b3dcf3"/><circle cx="783.98" cy="911.33" r="12.13" fill="#fff"/><rect x="757.70" y="923.85" width="71.19" height="3.20" fill="url(#cl5g)"/></g><path d="M920.90,874.10 L924.33,881.37 L929.83,875.51 L930.84,883.49 L937.89,879.62 L936.39,887.51 L944.28,886.01 L940.41,893.06 L948.39,894.07 L942.53,899.57 L949.80,903.00 L942.53,906.43 L948.39,911.93 L940.41,912.94 L944.28,919.99 L936.39,918.49 L937.89,926.38 L930.84,922.51 L929.83,930.49 L924.33,924.63 L920.90,931.90 L917.47,924.63 L911.97,930.49 L910.96,922.51 L903.91,926.38 L905.41,918.49 L897.52,919.99 L901.39,912.94 L893.41,911.93 L899.27,906.43 L892.00,903.00 L899.27,899.57 L893.41,894.07 L901.39,893.06 L897.52,886.01 L905.41,887.51 L903.91,879.62 L910.96,883.49 L911.97,875.51 L917.47,881.37Z" fill="#f6e92b" stroke="#f7941d" stroke-width="2.3" stroke-linejoin="miter" stroke-miterlimit="10"/><text x="154.50" y="829.2" font-size="18" fill="#4d4d4d" text-anchor="middle">Tue 05/02</text><text x="113.00" y="863.3" font-size="19.5" fill="#d9303e">74°</text><line x1="155.00" y1="849.4" x2="155.00" y2="864.8" stroke="#c9c9c9" stroke-width="1.5"/><text x="165.80" y="863.3" font-size="19.5" fill="#2a6dc9">51°</text><text x="154.80" y="958.70" font-size="18.5" fill="#4d4d4d" text-anchor="middle">Clear</text><text x="282.30" y="829.2" font-size="18" fill="#4d4d4d" text-anchor="middle">Wed 05/03</text><text x="240.80" y="863.3" font-size="19.5" fill="#d9303e">71°</text><line x1="282.80" y1="849.4" x2="282.80" y2="864.8" stroke="#c9c9c9" stroke-width="1.5"/><text x="293.60" y="863.3" font-size="19.5" fill="#2a6dc9">47°</text><text x="282.60" y="958.70" font-size="18.5" fill="#4d4d4d" text-anchor="middle">Clear</text><text x="410.10" y="829.2" font-size="18" fill="#4d4d4d" text-anchor="middle">Thu 05/04</text><text x="368.60" y="863.3" font-size="19.5" fill="#d9303e">69°</text><line x1="410.60" y1="849.4" x2="410.60" y2="864.8" stroke="#c9c9c9" stroke-width="1.5"/><text x="421.40" y="863.3" font-size="19.5" fill="#2a6dc9">58°</text><text x="410.40" y="958.70" font-size="18.5" fill="#4d4d4d" text-anchor="middle">Rain</text><text x="537.90" y="829.2" font-size="18" fill="#4d4d4d" text-anchor="middle">Fri 05/05</text><text x="496.40" y="863.3" font-size="19.5" fill="#d9303e">70°</text><line x1="538.40" y1="849.4" x2="538.40" y2="864.8" stroke="#c9c9c9" stroke-width="1.5"/><text x="549.20" y="863.3" font-size="19.5" fill="#2a6dc9">51°</text><text x="538.20" y="958.70" font-size="18.5" fill="#4d4d4d" text-anchor="middle" textLength="98" lengthAdjust="spacingAndGlyphs">Chance of a</text><text x="538.20" y="976.10" font-size="18.5" fill="#4d4d4d" text-anchor="middle" textLength="112" lengthAdjust="spacingAndGlyphs">Thunderstorm</text><text x="665.70" y="829.2" font-size="18" fill="#4d4d4d" text-anchor="middle">Sat 05/06</text><text x="624.20" y="863.3" font-size="19.5" fill="#d9303e">60°</text><line x1="666.20" y1="849.4" x2="666.20" y2="864.8" stroke="#c9c9c9" stroke-width="1.5"/><text x="677.00" y="863.3" font-size="19.5" fill="#2a6dc9">44°</text><text x="666.00" y="958.70" font-size="18.5" fill="#4d4d4d" text-anchor="middle">Mostly Cloudy</text><text x="793.50" y="829.2" font-size="18" fill="#4d4d4d" text-anchor="middle">Sun 05/07</text><text x="752.00" y="863.3" font-size="19.5" fill="#d9303e">62°</text><line x1="794.00" y1="849.4" x2="794.00" y2="864.8" stroke="#c9c9c9" stroke-width="1.5"/><text x="804.80" y="863.3" font-size="19.5" fill="#2a6dc9">42°</text><text x="793.80" y="958.70" font-size="18.5" fill="#4d4d4d" text-anchor="middle">Partly Cloudy</text><text x="921.30" y="829.2" font-size="18" fill="#4d4d4d" text-anchor="middle">Mon 05/08</text><text x="879.80" y="863.3" font-size="19.5" fill="#d9303e">64°</text><line x1="921.80" y1="849.4" x2="921.80" y2="864.8" stroke="#c9c9c9" stroke-width="1.5"/><text x="932.60" y="863.3" font-size="19.5" fill="#2a6dc9">43°</text><text x="921.60" y="958.70" font-size="18.5" fill="#4d4d4d" text-anchor="middle">Clear</text><line x1="92.4" y1="809" x2="92.4" y2="979" stroke="#e3e3e3" stroke-width="1.4"/><line x1="219.4" y1="809" x2="219.4" y2="979" stroke="#e3e3e3" stroke-width="1.4"/><line x1="346.6" y1="809" x2="346.6" y2="979" stroke="#e3e3e3" stroke-width="1.4"/><line x1="475.0" y1="809" x2="475.0" y2="979" stroke="#e3e3e3" stroke-width="1.4"/><line x1="602.3" y1="809" x2="602.3" y2="979" stroke="#e3e3e3" stroke-width="1.4"/><line x1="731.0" y1="809" x2="731.0" y2="979" stroke="#e3e3e3" stroke-width="1.4"/><line x1="858.5" y1="809" x2="858.5" y2="979" stroke="#e3e3e3" stroke-width="1.4"/><line x1="986.2" y1="809" x2="986.2" y2="979" stroke="#e3e3e3" stroke-width="1.4"/><line x1="90" y1="809.2" x2="987.4" y2="809.2" stroke="#e6e6e6" stroke-width="1.4"/><line x1="92" y1="839.2" x2="987.4" y2="839.2" stroke="#d9d9d9" stroke-width="1.4"/></svg>
<svg class="arr" style="left:60px;top:865px" width="30" height="36" viewBox="0 0 30 36"><path d="M19.7,7.2 L9.6,17.5 L19.7,27.8" fill="none" stroke="#777" stroke-width="2.5" stroke-linecap="round"/></svg>
<svg class="arr" style="left:990px;top:865px" width="30" height="36" viewBox="0 0 30 36"><path d="M8.4,7.5 L17.9,17.5 L8.4,27.4" fill="none" stroke="#777" stroke-width="2.5" stroke-linecap="round"/></svg>
</div></body></html>
